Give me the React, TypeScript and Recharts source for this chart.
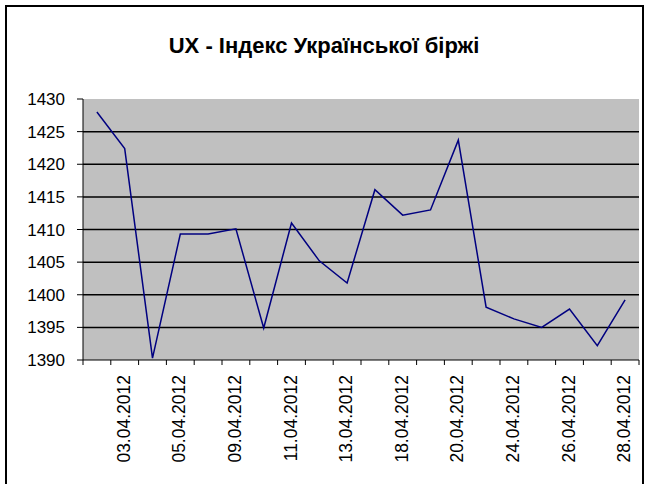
import { LineChart, Line, XAxis, YAxis, CartesianGrid } from 'recharts'

const dates = [
  '02.04.2012', '03.04.2012', '04.04.2012', '05.04.2012', '06.04.2012',
  '09.04.2012', '10.04.2012', '11.04.2012', '12.04.2012', '13.04.2012',
  '17.04.2012', '18.04.2012', '19.04.2012', '20.04.2012', '23.04.2012',
  '24.04.2012', '25.04.2012', '26.04.2012', '27.04.2012', '28.04.2012',
]
const uxValues = [
  1428.0, 1422.4, 1390.3, 1409.3, 1409.3, 1410.1, 1394.9, 1411.0, 1405.2, 1401.8,
  1416.1, 1412.2, 1413.0, 1423.7, 1398.1, 1396.3, 1395.0, 1397.8, 1392.2, 1399.2,
]
const yTicks = [1390, 1395, 1400, 1405, 1410, 1415, 1420, 1425, 1430]
const gridValues = [1395, 1400, 1405, 1410, 1415, 1420, 1425]

const chartData = dates.map((date, i) => ({ date, value: uxValues[i] }))

const FONT = 'Arial, "Liberation Sans", sans-serif'

function DateTick(props: any) {
  const { x, y, payload, index } = props
  const half = payload?.offset || 13.9
  const last = index === dates.length - 1
  return (
    <g>
      <line x1={x - half} y1={y} x2={x - half} y2={y + 5} stroke="#000" />
      {last && <line x1={x + half} y1={y} x2={x + half} y2={y + 5} stroke="#000" />}
      {index % 2 === 1 && (
        <text
          x={0}
          y={0}
          transform={`translate(${x - 1},${y + 15}) rotate(-90)`}
          textAnchor="end"
          dominantBaseline="central"
          fontSize={17.5}
          fontFamily={FONT}
          fill="#000"
        >
          {payload.value}
        </text>
      )}
    </g>
  )
}

export default function App() {
  return (
    <div style={{ position: 'absolute', left: 0, top: 0, width: 648, height: 484, overflow: 'hidden', background: '#fff' }}>
      <div
        style={{
          position: 'absolute',
          left: 5,
          top: 5,
          width: 639,
          height: 500,
          border: '2px solid #000',
          boxSizing: 'border-box',
        }}
      />
      <div
        style={{
          position: 'absolute',
          left: 0,
          top: 33,
          width: 648,
          textAlign: 'center',
          fontFamily: FONT,
          fontWeight: 'bold',
          fontSize: 22,
          color: '#000',
        }}
      >
        UX - Індекс Української біржі
      </div>
      <LineChart
        width={648}
        height={484}
        data={chartData}
        margin={{ top: 99, right: 9, bottom: 0, left: 0 }}
        style={{ position: 'absolute', left: 0, top: 0 }}
      >
        <CartesianGrid
          vertical={false}
          horizontalValues={gridValues}
          fill="#c0c0c0"
          fillOpacity={1}
          stroke="#000"
          strokeWidth={1.5}
        />
        <XAxis
          dataKey="date"
          scale="band"
          interval={0}
          height={124}
          tickSize={0}
          tickMargin={0}
          tickLine={false}
          axisLine={{ stroke: '#000' }}
          tick={<DateTick />}
        />
        <XAxis
          xAxisId="top"
          dataKey="date"
          scale="band"
          orientation="top"
          height={0}
          tick={false}
          tickLine={false}
          axisLine={{ stroke: '#808080' }}
        />
        <YAxis
          width={83}
          domain={[1390, 1430]}
          ticks={yTicks}
          interval={0}
          tickSize={6}
          tickMargin={12}
          axisLine={{ stroke: '#000' }}
          tickLine={{ stroke: '#000' }}
          tick={{ fill: '#000', fontSize: 17, fontFamily: FONT }}
        />
        <YAxis
          yAxisId="right"
          orientation="right"
          width={0}
          domain={[1390, 1430]}
          tick={false}
          tickLine={false}
          axisLine={{ stroke: '#808080' }}
        />
        <Line
          type="linear"
          dataKey="value"
          stroke="#000080"
          strokeWidth={1.5}
          dot={false}
          isAnimationActive={false}
        />
      </LineChart>
    </div>
  )
}
